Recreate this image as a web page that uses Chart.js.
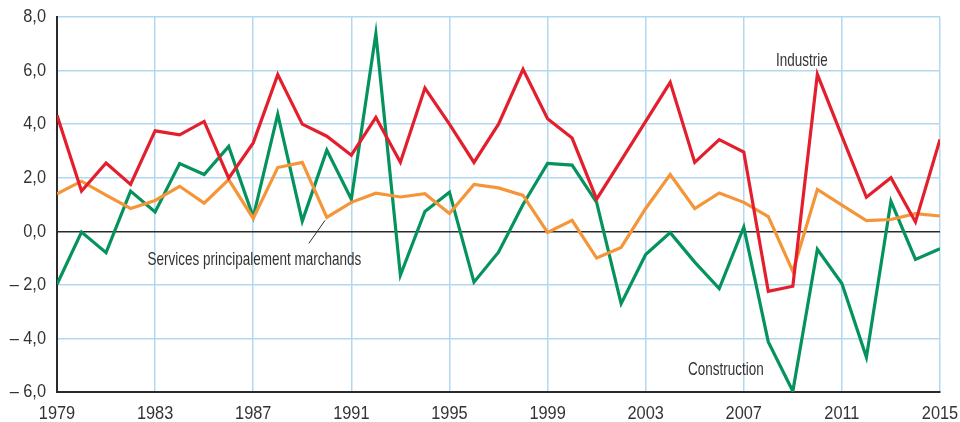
<!DOCTYPE html>
<html lang="fr">
<head>
<meta charset="utf-8">
<title>Industrie, construction, services</title>
<script src="https://cdn.jsdelivr.net/npm/chart.js@4/dist/chart.umd.min.js"></script>
<style>
  html, body { margin: 0; padding: 0; background: #fff; }
  #chart { display: block; }
</style>
</head>
<body>
<canvas id="chart" width="960" height="422"></canvas>
<script>
const years = [];
for (let y = 1979; y <= 2015; y++) years.push(y);

const industrie = [4.33, 1.5, 2.55, 1.75, 3.75, 3.6, 4.1, 1.98, 3.3, 5.85,
  4.0, 3.55, 2.84, 4.25, 2.58, 5.35, 4.0, 2.57, 4.0, 6.05,
  4.2, 3.48, 1.2, 2.65, 4.1, 5.56, 2.57, 3.42, 2.96, -2.24,
  -2.05, 5.86, 3.55, 1.27, 2.0, 0.35, 3.43];

const construction = [-1.98, -0.03, -0.8, 1.5, 0.72, 2.53, 2.12, 3.17, 0.53, 4.37,
  0.38, 3.03, 1.2, 7.38, -1.64, 0.74, 1.46, -1.9, -0.78, 1.0,
  2.53, 2.47, 1.08, -2.7, -0.87, -0.05, -1.15, -2.14, 0.15, -4.13,
  -5.97, -0.67, -1.95, -4.7, 1.12, -1.05, -0.65];

const services = [1.4, 1.87, 1.35, 0.85, 1.15, 1.68, 1.05, 1.93, 0.48, 2.38,
  2.57, 0.52, 1.08, 1.42, 1.28, 1.4, 0.66, 1.75, 1.62, 1.34,
  -0.04, 0.41, -1.0, -0.6, 0.85, 2.12, 0.85, 1.43, 1.08, 0.55,
  -1.5, 1.56, 0.98, 0.4, 0.44, 0.66, 0.57];

const xTicks = [1979, 1983, 1987, 1991, 1995, 1999, 2003, 2007, 2011, 2015];
const yTicks = [-6, -4, -2, 0, 2, 4, 6, 8];

// series names written on the chart, anchored in data units (year, value)
const seriesLabels = [
  { text: 'Industrie', year: 2009.37, value: 6.16 },
  { text: 'Construction', year: 2006.27, value: -5.37 },
  { text: 'Services principalement marchands', year: 1987.05, value: -1.27 }
];

const FONT = "'Liberation Sans', Arial, sans-serif";
const TEXT = '#333333';
const GRID = '#b1d8ef';
const AXIS = '#2b2b2b';

const toPoints = function (values) {
  return values.map((v, i) => ({ x: years[i], y: v }));
};

const frLabel = function (v) {
  const s = Math.abs(v).toFixed(1).replace('.', ',');
  return v < 0 ? '\u2013 ' + s : s;
};

// no narrow face installed, so squeeze a regular one horizontally
const narrowText = function (ctx, text, x, y, squeeze) {
  ctx.save();
  ctx.translate(x, y);
  ctx.scale(squeeze, 1);
  ctx.fillText(text, 0, 0);
  ctx.restore();
};

const annotations = {
  id: 'annotations',
  afterDraw(chart) {
    const ctx = chart.ctx;
    const xs = chart.scales.x;
    const ys = chart.scales.y;
    ctx.save();
    ctx.fillStyle = TEXT;

    // axis labels
    ctx.font = '19px ' + FONT;
    ctx.textAlign = 'center';
    ctx.textBaseline = 'top';
    xTicks.forEach(v => narrowText(ctx, String(v), xs.getPixelForValue(v), xs.top + 12, 0.86));
    ctx.textAlign = 'right';
    ctx.textBaseline = 'middle';
    yTicks.forEach(v => narrowText(ctx, frLabel(v), ys.right - 11, ys.getPixelForValue(v), 0.86));

    // series names
    ctx.textAlign = 'center';
    ctx.textBaseline = 'alphabetic';
    seriesLabels.forEach(l => {
      narrowText(ctx, l.text, xs.getPixelForValue(l.year), ys.getPixelForValue(l.value), 0.71);
    });

    // leader from the services label up to its line
    ctx.strokeStyle = TEXT;
    ctx.lineWidth = 1;
    ctx.beginPath();
    ctx.moveTo(xs.getPixelForValue(1989.27), ys.getPixelForValue(-0.45));
    ctx.lineTo(xs.getPixelForValue(1989.93), ys.getPixelForValue(0.41));
    ctx.stroke();
    ctx.restore();
  }
};

const line = function (label, values, color) {
  return {
    label: label,
    data: toPoints(values),
    borderColor: color,
    backgroundColor: color,
    borderWidth: 3.2,
    pointRadius: 0,
    tension: 0,
    borderJoinStyle: 'miter'
  };
};

new Chart(document.getElementById('chart'), {
  type: 'line',
  data: {
    datasets: [
      line('Industrie', industrie, '#e41f2d'),
      line('Services principalement marchands', services, '#f5953a'),
      line('Construction', construction, '#05935d')
    ]
  },
  options: {
    responsive: false,
    animation: false,
    layout: { padding: { top: 17, right: 20, left: 0, bottom: 0 } },
    plugins: {
      legend: { display: false },
      tooltip: { enabled: false }
    },
    scales: {
      x: {
        type: 'linear',
        min: 1979,
        max: 2015,
        afterBuildTicks: scale => { scale.ticks = xTicks.map(v => ({ value: v })); },
        afterFit: scale => {
          scale.height = 30;
          scale.paddingLeft = 0;
          scale.paddingRight = 0;
        },
        ticks: { display: false },
        grid: { color: GRID, lineWidth: 1.5, drawTicks: false },
        border: { color: AXIS, width: 2 }
      },
      y: {
        min: -6,
        max: 8,
        afterBuildTicks: scale => { scale.ticks = yTicks.map(v => ({ value: v })); },
        afterFit: scale => {
          scale.width = 57;
          scale.paddingTop = 0;
          scale.paddingBottom = 0;
        },
        ticks: { display: false },
        grid: {
          drawTicks: false,
          color: c => (c.tick && c.tick.value === 0 ? AXIS : GRID),
          lineWidth: 1.5
        },
        border: { color: AXIS, width: 2 }
      }
    }
  },
  plugins: [annotations]
});
</script>
</body>
</html>
